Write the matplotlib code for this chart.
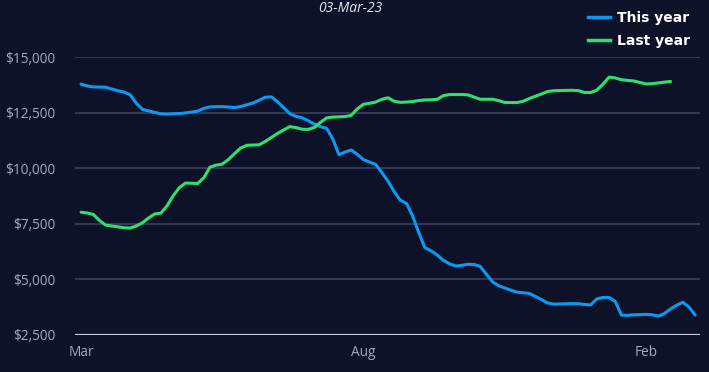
import numpy as np
import matplotlib
matplotlib.use("Agg")
import matplotlib.pyplot as plt
from matplotlib.lines import Line2D

# Half-week steps; tick labels sit on steps 0, 46, 92
tick_pos = [0, 46, 92]
tick_labels = ['Mar', 'Aug', 'Feb']

this_year = [
    13791, 13709, 13664, 13659, 13655, 13573, 13496, 13437, 13315, 12930,
    12659, 12586, 12523, 12455, 12441, 12455, 12468, 12495, 12532, 12577,
    12704, 12767, 12776, 12781, 12763, 12740, 12785, 12862, 12944, 13066,
    13202, 13220, 12998, 12731, 12468, 12342, 12278, 12147, 11993, 11880,
    11798, 11322, 10620, 10734, 10829, 10630, 10394, 10281, 10177, 9805,
    9420, 8945, 8569, 8424, 7858, 7110, 6431, 6291, 6101, 5865,
    5706, 5607, 5634, 5684, 5675, 5589, 5240, 4896, 4719, 4615,
    4520, 4429, 4402, 4370, 4239, 4090, 3940, 3890, 3899, 3904,
    3913, 3908, 3872, 3854, 4126, 4189, 4189, 4008, 3397, 3383,
    3410, 3419, 3428, 3410, 3351, 3465, 3673, 3841, 3972, 3759,
    3397,
]

last_year = [
    8025, 7994, 7926, 7654, 7450, 7405, 7369, 7328, 7314, 7405,
    7550, 7767, 7948, 7985, 8311, 8764, 9126, 9339, 9330, 9321,
    9579, 10054, 10145, 10190, 10394, 10666, 10915, 11037, 11051, 11060,
    11209, 11390, 11572, 11730, 11880, 11834, 11762, 11753, 11843, 12070,
    12274, 12310, 12319, 12332, 12387, 12681, 12885, 12930, 12985, 13111,
    13179, 13021, 12971, 12985, 13007, 13053, 13080, 13089, 13107, 13270,
    13324, 13324, 13324, 13311, 13211, 13111, 13111, 13111, 13053, 12966,
    12962, 12962, 13021, 13143, 13247, 13351, 13460, 13496, 13505, 13510,
    13514, 13501, 13415, 13415, 13519, 13791, 14108, 14072, 13990, 13958,
    13936, 13868, 13800, 13813, 13845, 13881, 13913,
]

y_ticks = [2500, 5000, 7500, 10000, 12500, 15000]

bg = '#0d1229'
blue = '#0a9af0'
green = '#2ee06e'
grid_col = '#3b4060'
label_col = '#a3a9bf'

plt.rcParams['font.family'] = ['Open Sans', 'DejaVu Sans']

fig = plt.figure(figsize=(7.09, 3.72), dpi=100, facecolor=bg)
ax = fig.add_axes([75 / 709, 1 - 335 / 372, 625 / 709, (335 - 57.3) / 372])
ax.set_facecolor(bg)

ax.plot(range(len(this_year)), this_year, color=blue, lw=2.2,
        solid_joinstyle='round', solid_capstyle='round', zorder=3)
ax.plot(range(len(last_year)), last_year, color=green, lw=2.2,
        solid_joinstyle='round', solid_capstyle='round', zorder=3)

ax.set_xlim(-0.98, 100.8)
ax.set_ylim(2500, 15000)
ax.set_yticks(y_ticks)
ax.set_yticklabels([f'${v:,}' for v in y_ticks])
ax.set_xticks(tick_pos)
ax.set_xticklabels(tick_labels)

for v in y_ticks[1:]:
    ax.axhline(v, color=grid_col, lw=1.2, zorder=1)
ax.axhline(2500, color='#c9cce0', lw=1.6, zorder=2)

for s in ax.spines.values():
    s.set_visible(False)
ax.tick_params(axis='both', length=0, colors=label_col, labelsize=9.8)
ax.tick_params(axis='y', pad=14)
ax.tick_params(axis='x', pad=7)

fig.text(350 / 709, 1 - 8 / 372, '03-Mar-23', color='#e6e8f0', fontsize=10,
         style='italic', ha='center', va='center')

handles = [Line2D([0], [0], color=blue, lw=2.5),
           Line2D([0], [0], color=green, lw=2.5)]
leg = fig.legend(handles, ['This year', 'Last year'], loc='upper right',
                 bbox_to_anchor=(703 / 709, 1 + 2 / 372), frameon=False,
                 handlelength=1.6, handletextpad=0.55, labelspacing=0.65,
                 prop={'family': 'DejaVu Sans', 'weight': 'bold', 'size': 10})
for t in leg.get_texts():
    t.set_color('white')

fig.savefig('out.png', dpi=100, facecolor=bg)
